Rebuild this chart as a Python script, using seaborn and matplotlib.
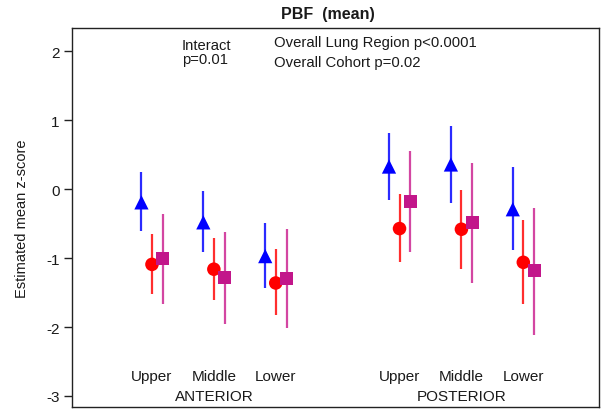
import matplotlib
matplotlib.use("Agg")
import matplotlib.pyplot as plt
import seaborn as sns
import pandas as pd
import numpy as np

# ---- data ----
regions = ["Upper", "Middle", "Lower"]
sides = ["ANTERIOR", "POSTERIOR"]
cohorts = ["A", "B", "C"]  # triangle, circle, square

# order: Ant Upper, Ant Middle, Ant Lower, Post Upper, Post Middle, Post Lower
mean_A = [-0.19, -0.48, -0.97, 0.33, 0.36, -0.29]
lo_A   = [-0.61, -0.91, -1.44, -0.155, -0.20, -0.88]
hi_A   = [0.255, -0.02, -0.49, 0.82, 0.92, 0.32]

mean_B = [-1.09, -1.16, -1.36, -0.57, -0.58, -1.06]
lo_B   = [-1.52, -1.60, -1.83, -1.06, -1.16, -1.67]
hi_B   = [-0.65, -0.71, -0.87, -0.07, -0.01, -0.45]

mean_C = [-1.01, -1.28, -1.29, -0.18, -0.485, -1.18]
lo_C   = [-1.67, -1.95, -2.01, -0.91, -1.36, -2.12]
hi_C   = [-0.36, -0.62, -0.57, 0.56, 0.38, -0.27]

title = "PBF  (mean)"
ylabel = "Estimated mean z-score"
yticks = [2, 1, 0, -1, -2, -3]

# ---- layout ----
base_pos = [1, 2, 3, 5, 6, 7]
offsets = {"A": -0.17, "B": 0.0, "C": 0.175}
marker_map = {"A": "^", "B": "o", "C": "s"}
marker_col = {"A": "#0000FF", "B": "#FF0000", "C": "#C2168A"}
line_col = {"A": "#2B2BFF", "B": "#FF2E2E", "C": "#D346A2"}
sizes = {"A": 105, "B": 95, "C": 90}

rows = []
for c, m, lo, hi in [("A", mean_A, lo_A, hi_A), ("B", mean_B, lo_B, hi_B), ("C", mean_C, lo_C, hi_C)]:
    for i in range(6):
        rows.append(dict(cohort=c, x=base_pos[i] + offsets[c], mean=m[i], lo=lo[i], hi=hi[i]))
df = pd.DataFrame(rows)

sns.set_style("white")
plt.rcParams["font.family"] = ["Liberation Sans", "DejaVu Sans"]
txt_col = "#1a1a1a"

fig = plt.figure(figsize=(6.01, 4.10), dpi=100)
ax = fig.add_axes([72/601, 2/410, (599-72)/601, 379/410])

for c in cohorts:
    sub = df[df.cohort == c]
    ax.vlines(sub.x, sub.lo, sub.hi, colors=line_col[c], linewidth=1.6, zorder=2)
for c in cohorts:
    sub = df[df.cohort == c]
    sns.scatterplot(data=sub, x="x", y="mean", marker=marker_map[c], color=marker_col[c],
                    s=sizes[c], edgecolor="none", linewidth=0, ax=ax, zorder=3, legend=False)

ax.set_xlim(-0.292, 8.223)
ax.set_ylim(-3.16, 2.341)
ax.set_xticks([])
ax.set_yticks(yticks)
ax.set_yticklabels([str(t) for t in yticks], fontsize=11, color=txt_col)
ax.tick_params(axis="y", direction="out", length=6, width=1, pad=3, color="#222222", left=True)
ax.set_xlabel("")
ax.set_ylabel(ylabel, fontsize=10.5, labelpad=12, color=txt_col)
for sp in ax.spines.values():
    sp.set_visible(True)
    sp.set_color("#222222")
    sp.set_linewidth(1.0)

# category labels inside the axes
for i, r in enumerate(regions * 2):
    ax.text(base_pos[i], -2.71, r, ha="center", va="center", fontsize=11, color=txt_col)
ax.text(2, -3.0, sides[0], ha="center", va="center", fontsize=11, color=txt_col)
ax.text(6, -3.0, sides[1], ha="center", va="center", fontsize=11, color=txt_col)

# annotations
fig.text(182/601, 1 - 46/410, "Interact", ha="left", va="center", fontsize=10.6, color=txt_col)
fig.text(182/601, 1 - 60/410, "p=0.01", ha="left", va="center", fontsize=10.6, color=txt_col)
fig.text(274/601, 1 - 42.5/410, "Overall Lung Region p<0.0001", ha="left", va="center", fontsize=10.7, color=txt_col)
fig.text(274/601, 1 - 62.5/410, "Overall Cohort p=0.02", ha="left", va="center", fontsize=10.7, color=txt_col)
fig.text(328/601, 1 - 14/410, title, ha="center", va="center", fontsize=11.5, fontweight="bold", color=txt_col)

fig.savefig("out.png", dpi=100)
